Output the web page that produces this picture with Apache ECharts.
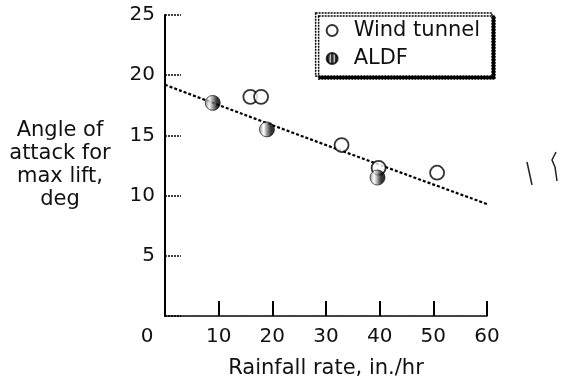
<!DOCTYPE html>
<html>
<head>
  <meta charset="utf-8" />
  <title>Angle of attack vs rainfall rate</title>
  <style>
    html, body { margin: 0; padding: 0; background: #fff; }
    #chart { width: 565px; height: 386px; }
  </style>
</head>
<body>
  <div id="chart"></div>
  <script src="https://cdn.jsdelivr.net/npm/echarts@6/dist/echarts.min.js"></script>
  <script>
    // 风洞数据 (rainfall, angle)
    var windTunnel = [[15.9, 18.2], [17.9, 18.2], [32.9, 14.2], [39.8, 12.3], [50.7, 11.9]];
    // ALDF 数据
    var aldf = [[8.9, 17.7], [19.0, 15.5], [39.6, 11.5]];
    // 拟合线
    var fitLine = [[0, 19.2], [30, 14.2], [60, 9.3]];
    var xTicks = [0, 10, 20, 30, 40, 50, 60];
    var yTicks = [0, 5, 10, 15, 20, 25];

    var font = '"DejaVu Sans", sans-serif';

    // 竖条纹填充
    var stripe = document.createElement('canvas');
    stripe.width = 4;
    stripe.height = 4;
    var sc = stripe.getContext('2d');
    sc.fillStyle = '#fff';
    sc.fillRect(0, 0, 4, 4);
    sc.fillStyle = '#000';
    sc.fillRect(0, 0, 3, 4);

    var myChart = echarts.init(document.getElementById('chart'));

    var option = {
      backgroundColor: '#fff',
      animation: false,
      textStyle: { fontFamily: font, color: '#111' },
      grid: { left: 165, right: 78, top: 15, bottom: 70, containLabel: false },
      legend: {
        right: 73,
        top: 13,
        orient: 'vertical',
        itemGap: 7,
        itemWidth: 11,
        itemHeight: 11,
        padding: [7, 12, 7, 10],
        backgroundColor: '#fff',
        borderColor: '#000',
        borderWidth: 1.5,
        borderType: [2, 1],
        shadowColor: '#000',
        shadowBlur: 0,
        shadowOffsetX: 3,
        shadowOffsetY: 3,
        textStyle: { fontSize: 21, lineHeight: 21, fontFamily: font, color: '#111', padding: [0, 0, 0, 11] },
        data: ['Wind tunnel', 'ALDF']
      },
      xAxis: {
        type: 'value',
        min: xTicks[0],
        max: xTicks[xTicks.length - 1],
        interval: 10,
        name: 'Rainfall rate, in./hr',
        nameLocation: 'middle',
        nameGap: 42,
        nameTextStyle: { fontSize: 21, fontFamily: font, color: '#111' },
        axisLine: { lineStyle: { color: '#000', width: 1.5, type: [2, 1] } },
        axisTick: { inside: true, length: 15, lineStyle: { color: '#000', width: 2 } },
        axisLabel: {
          fontSize: 20, margin: 11, color: '#111', fontFamily: font,
          formatter: function (v) { return v === 0 ? '{z|0}' : String(v); },
          rich: { z: { fontSize: 20, fontFamily: font, color: '#111', padding: [0, 36, 0, 0] } }
        },
        splitLine: { show: false }
      },
      yAxis: {
        type: 'value',
        min: yTicks[0],
        max: yTicks[yTicks.length - 1],
        interval: 5,
        name: 'Angle of\nattack for\nmax lift,\ndeg',
        nameLocation: 'middle',
        nameRotate: 0,
        nameGap: 105,
        nameTextStyle: { fontSize: 21, fontFamily: font, color: '#111', align: 'center', lineHeight: 23 },
        axisLine: { show: true, lineStyle: { color: '#000', width: 2 } },
        axisTick: { inside: true, length: 16, lineStyle: { color: '#000', width: 1.5, type: [2, 1] } },
        axisLabel: {
          fontSize: 20, margin: 10, color: '#111', fontFamily: font,
          formatter: function (v) { return v === 0 ? '' : String(v); }
        },
        splitLine: { show: false }
      },
      graphic: [
        { type: 'polyline', shape: { points: [[527, 162], [532, 185]] }, style: { stroke: '#222', lineWidth: 1.5 } },
        { type: 'polyline', shape: { points: [[556, 152], [552, 160], [555, 167], [557, 181]] }, style: { stroke: '#222', lineWidth: 1.5, fill: null } }
      ],
      series: [
        {
          name: 'fit',
          type: 'line',
          data: fitLine,
          smooth: true,
          symbol: 'none',
          silent: true,
          lineStyle: { color: '#000', width: 2.2, type: [3, 2] },
          z: 1
        },
        {
          name: 'Wind tunnel',
          type: 'scatter',
          data: windTunnel,
          symbol: 'circle',
          symbolSize: 14,
          itemStyle: { color: '#fff', borderColor: '#000', borderWidth: 1.8 },
          z: 2
        },
        {
          name: 'ALDF',
          type: 'scatter',
          data: aldf,
          symbol: 'circle',
          symbolSize: 15,
          itemStyle: {
            color: { image: stripe, repeat: 'repeat' },
            borderColor: '#000',
            borderWidth: 0.8
          },
          z: 3
        }
      ]
    };

    myChart.setOption(option);
  </script>
</body>
</html>
